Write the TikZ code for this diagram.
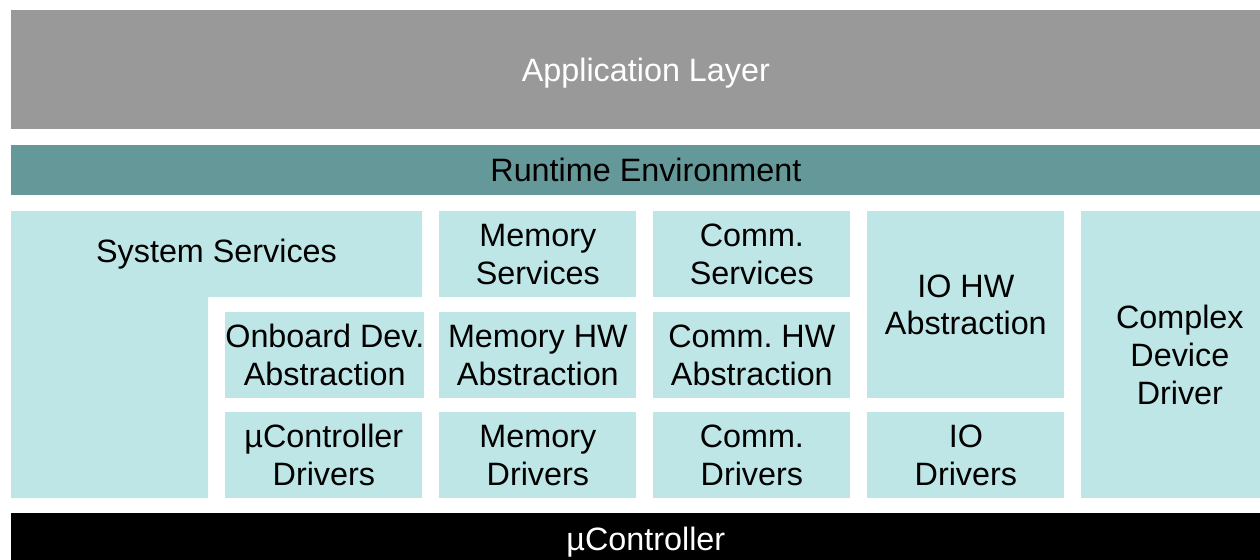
\documentclass[tikz,border=0pt]{standalone}
\usepackage{fontspec}
\setmainfont{Liberation Sans}
\frenchspacing
\definecolor{appgray}{RGB}{153,153,153}
\definecolor{rtegreen}{RGB}{101,153,153}
\definecolor{bswcyan}{RGB}{190,230,230}
\newcommand{\colw}{39.4mm}
\newcommand{\rowh}{17.2mm}

\begin{document}
\begin{tikzpicture}[x=0.2mm,y=-0.2mm,
  every node/.style={font=\fontsize{18.4}{21.6}\selectfont, align=center, inner sep=0pt},
  bsw/.style={fill=bswcyan, anchor=north west, minimum width=\colw, minimum height=\rowh}]

      \useasboundingbox (0,0) rectangle (1260,559);
      \clip (0,0) rectangle (1260,559);

          %% top layers
      \node (app) at (11,10) [fill=appgray, anchor=north west, minimum width=253.8mm,
        minimum height=23.8mm, text=white, text depth=0pt] {Application Layer};
      \node (rte) at (11,145) [fill=rtegreen, anchor=north west, minimum width=253.8mm,
        minimum height=10mm] {Runtime Environment};

          %% system services is the L shaped block
      \fill[bswcyan] (11,211) -| (422,297) -| (208,498) -| cycle;
      \node (sys) at (216.5,254) {System Services};

      \node (onboard) at (225,312) [bsw] {Onboard Dev.\\Abstraction};
      \node (mcal) at (225,412) [bsw] {\textmu Controller\\Drivers};

      \node (memsrv) at (439,211) [bsw] {Memory\\Services};
      \node (memhw) at (439,312) [bsw] {Memory HW\\Abstraction};
      \node (memdrv) at (439,412) [bsw] {Memory\\Drivers};

      \node (comsrv) at (653,211) [bsw] {Comm.\\Services};
      \node (comhw) at (653,312) [bsw] {Comm. HW\\Abstraction};
      \node (comdrv) at (653,412) [bsw] {Comm.\\Drivers};

      \node (iohw) at (867,211) [bsw, minimum height=37.4mm] {IO HW\\Abstraction};
      \node (iodrv) at (867,412) [bsw] {IO\\Drivers};

      \node (cdd) at (1081,211) [bsw, minimum height=57.4mm] {Complex\\Device\\Driver};

          %% hardware
      \node (mcu) at (11,513) [fill=black, anchor=north west, minimum width=253.8mm,
        minimum height=11.6mm, text=white] {\textmu Controller};

\end{tikzpicture}
\end{document}
